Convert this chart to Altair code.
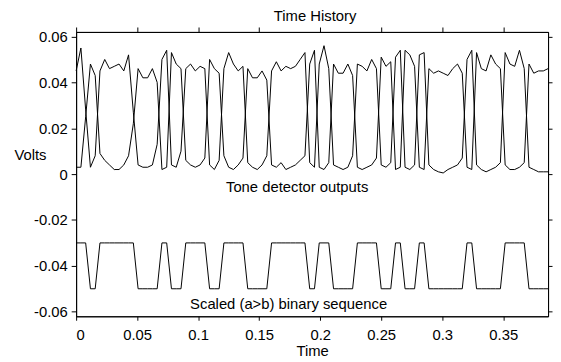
import altair as alt
import pandas as pd

FONT = "Liberation Sans"

# sample index -> time (sampled at 256 Hz, 100 samples)
n_samples = 100
fs = 256.0

bits = [1, 1, 1, 0, 0, 1, 1, 1, 1, 1, 1, 1, 1, 0, 0, 0, 0, 0, 1, 1,
        0, 0, 0, 1, 1, 1, 1, 1, 0, 0, 0, 1, 1, 1, 1, 1, 0, 0, 0, 0,
        0, 1, 1, 1, 1, 1, 1, 1, 1, 0, 0, 1, 1, 1, 0, 0, 0, 0, 0, 1,
        1, 1, 1, 1, 0, 0, 0, 1, 1, 0, 0, 0, 1, 1, 0, 0, 0, 0, 0, 0,
        0, 0, 1, 1, 0, 0, 0, 0, 0, 0, 1, 1, 1, 1, 1, 0, 0, 0, 0, 0]

tone_a = [0.045, 0.055, 0.028, 0.003, 0.008, 0.045, 0.050, 0.046, 0.047, 0.048,
          0.045, 0.052, 0.027, 0.004, 0.003, 0.003, 0.004, 0.013, 0.050, 0.054,
          0.004, 0.003, 0.010, 0.046, 0.048, 0.045, 0.047, 0.046, 0.004, 0.002,
          0.006, 0.046, 0.053, 0.048, 0.045, 0.047, 0.005, 0.003, 0.002, 0.004,
          0.008, 0.045, 0.049, 0.045, 0.047, 0.046, 0.047, 0.050, 0.053, 0.005,
          0.003, 0.048, 0.056, 0.046, 0.004, 0.003, 0.002, 0.003, 0.008, 0.048,
          0.047, 0.045, 0.050, 0.046, 0.004, 0.003, 0.005, 0.051, 0.054, 0.003,
          0.002, 0.004, 0.052, 0.053, 0.004, 0.002, 0.001, 0.0005, 0.002, 0.003,
          0.004, 0.007, 0.050, 0.054, 0.004, 0.002, 0.001, 0.002, 0.003, 0.005,
          0.053, 0.048, 0.047, 0.054, 0.046, 0.003, 0.002, 0.001, 0.001, 0.001]

tone_b = [0.003, 0.003, 0.025, 0.048, 0.043, 0.009, 0.006, 0.004, 0.002, 0.002,
          0.004, 0.008, 0.022, 0.046, 0.042, 0.042, 0.046, 0.040, 0.002, 0.003,
          0.053, 0.048, 0.046, 0.006, 0.004, 0.003, 0.004, 0.007, 0.050, 0.046,
          0.044, 0.008, 0.003, 0.002, 0.004, 0.007, 0.046, 0.042, 0.042, 0.045,
          0.041, 0.004, 0.003, 0.005, 0.002, 0.003, 0.004, 0.006, 0.008, 0.048,
          0.054, 0.003, 0.002, 0.005, 0.048, 0.044, 0.044, 0.048, 0.043, 0.003,
          0.002, 0.003, 0.004, 0.007, 0.051, 0.047, 0.049, 0.002, 0.003, 0.054,
          0.052, 0.047, 0.003, 0.002, 0.046, 0.044, 0.045, 0.044, 0.043, 0.046,
          0.048, 0.044, 0.003, 0.002, 0.053, 0.046, 0.045, 0.052, 0.048, 0.046,
          0.004, 0.002, 0.002, 0.003, 0.005, 0.048, 0.044, 0.045, 0.045, 0.046]

x_ticks = [0, 0.05, 0.1, 0.15, 0.2, 0.25, 0.3, 0.35]
y_ticks = [-0.06, -0.04, -0.02, 0, 0.02, 0.04, 0.06]

ann_text = ["Tone detector outputs", "Scaled (a>b) binary sequence"]
ann_x = [0.1228, 0.0934]
ann_y = [-0.0058, -0.0565]

rows = []
for i in range(n_samples):
    t = i / fs
    rows.append({"t": t, "v": tone_a[i], "s": "a"})
    rows.append({"t": t, "v": tone_b[i], "s": "b"})
    rows.append({"t": t, "v": -0.05 + 0.02 * bits[i], "s": "bin"})
df = pd.DataFrame(rows)
ann = pd.DataFrame({"x": ann_x, "y": ann_y, "label": ann_text})

x_scale = alt.Scale(domain=[0, (n_samples - 1) / fs], nice=False, zero=False)
y_scale = alt.Scale(domain=[-0.062, 0.062], nice=False, zero=False)

common_axis = dict(domainColor="black", domainWidth=1, tickColor="black", tickWidth=1,
                   grid=False, labelFont=FONT, labelFontSize=15, labelColor="black",
                   titleFont=FONT, titleFontSize=15, titleColor="black", titleFontWeight="normal")

lines = alt.Chart(df).mark_line(color="black", strokeWidth=1).encode(
    x=alt.X("t:Q", scale=x_scale,
            axis=alt.Axis(orient="bottom", values=x_ticks, labelExpr="'' + datum.value",
                          tickSize=4, labelPadding=8, title="Time", titleBaseline="middle",
                          titleY=35, **common_axis)),
    y=alt.Y("v:Q", scale=y_scale,
            axis=alt.Axis(orient="left", values=y_ticks, labelExpr="'' + datum.value",
                          tickSize=5, labelPadding=4, title="Volts", titleAngle=0,
                          titleAlign="left", titleBaseline="middle", titleX=-63, titleY=124,
                          **common_axis)),
    detail="s:N",
)

frame = alt.Chart(df).mark_line(opacity=0).encode(
    x=alt.X("t:Q", scale=x_scale,
            axis=alt.Axis(orient="top", values=x_ticks, labels=False, tickSize=5, title="",
                          **common_axis)),
    y=alt.Y("v:Q", scale=y_scale,
            axis=alt.Axis(orient="right", values=y_ticks, labels=False, tickSize=4, title="",
                          **common_axis)),
    detail="s:N",
)

texts = alt.Chart(ann).mark_text(align="left", baseline="middle", font=FONT, fontSize=15,
                                 color="black").encode(
    x=alt.X("x:Q", scale=x_scale, axis=None),
    y=alt.Y("y:Q", scale=y_scale, axis=None),
    text="label:N",
)

chart = alt.layer(lines, frame, texts).resolve_axis(x="independent", y="independent").properties(
    width=478, height=288,
    title=alt.TitleParams("Time History", font=FONT, fontSize=15, fontWeight="normal",
                          color="black", anchor="middle", baseline="alphabetic", offset=5,
                          dy=14, dx=3),
    autosize=alt.AutoSizeParams(type="none"),
    padding={"left": 69, "top": 22, "right": 5, "bottom": 40},
).configure_view(stroke="black", strokeWidth=1)

chart.save("out.html", embed_options={"renderer": "svg", "actions": False})
